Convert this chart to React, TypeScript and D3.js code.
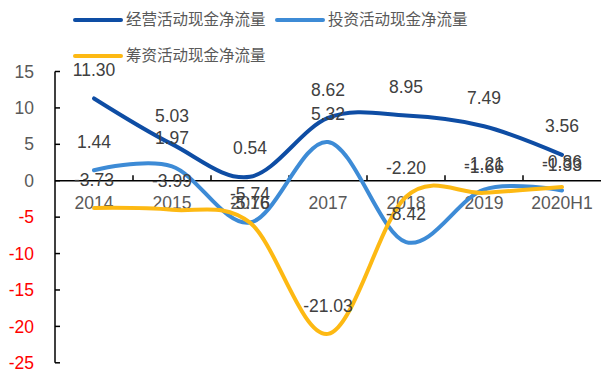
import React from "react";
import * as d3 from "d3";

const categories = ["2014", "2015", "2016", "2017", "2018", "2019", "2020H1"];
const operating = [11.3, 5.03, 0.54, 8.62, 8.95, 7.49, 3.56];
const investing = [1.44, 1.97, -5.74, 5.32, -8.42, -1.21, -1.33];
const financing = [-3.73, -3.99, -5.76, -21.03, -2.2, -1.66, -0.86];
const yTicks = [15, 10, 5, 0, -5, -10, -15, -20, -25];
const seriesNames = ["经营活动现金净流量", "投资活动现金净流量", "筹资活动现金净流量"];

const W = 601;
const H = 376;
const colors = ["#0E4DA4", "#3D8BD6", "#FDB913"];

export default function App() {
  const x0 = 55;
  const x1 = 601;
  const x = d3.scaleBand<string>().domain(categories).range([x0, x1]);
  const y = d3.scaleLinear().domain([-25, 15]).range([362.8, 71.5]);
  const cx = (i: number) => (x(categories[i]) as number) + x.bandwidth() / 2;
  const line = d3
    .line<number>()
    .x((_, i) => cx(i))
    .y((d) => y(d))
    .curve(d3.curveCatmullRom.alpha(0));
  const series = [operating, investing, financing];
  const numFont = "'Liberation Sans', Arial, sans-serif";
  const cjkFont = "'Noto Sans CJK SC', sans-serif";
  const boundaries = categories.slice(1).map((c) => x(c) as number);
  const labelY = (si: number, j: number, v: number) => {
    let yy = y(v) - 28.5;
    if (si === 2 && j === 2) yy = 203; // overlapping label in reference
    if (v < 0 && v > -2) yy += 3;
    return yy;
  };

  return (
    <svg
      width={W}
      height={H}
      style={{ position: "fixed", left: 0, top: 0, background: "#fff" }}
    >
      {/* legend */}
      {[0, 1, 2].map((i) => {
        const lx = i === 1 ? 277 : 75;
        const ly = i === 2 ? 56 : 20;
        return (
          <g key={i}>
            <line x1={lx} x2={lx + 46} y1={ly} y2={ly} stroke={colors[i]} strokeWidth={4} strokeLinecap="round" />
            <text x={lx + 51} y={ly} dy="0.35em" fontSize={15.5} fill="#595959" fontFamily={cjkFont}>
              {seriesNames[i]}
            </text>
          </g>
        );
      })}
      {/* y axis */}
      <line x1={x0} x2={x0} y1={y(15)} y2={y(-25)} stroke="#000" strokeWidth={1.5} />
      {yTicks.map((t) => (
        <g key={t}>
          <line x1={x0} x2={x0 + 5} y1={y(t)} y2={y(t)} stroke="#000" strokeWidth={1.5} />
          <text
            x={34}
            y={y(t)}
            dy="0.35em"
            textAnchor="end"
            fontSize={17.5}
            fontFamily={numFont}
            fill={t < 0 ? "#FF0000" : "#595959"}
          >
            {t}
          </text>
        </g>
      ))}
      {/* zero axis */}
      <line x1={x0} x2={x1} y1={y(0)} y2={y(0)} stroke="#000" strokeWidth={1.5} />
      {boundaries.map((b, i) => (
        <line key={i} x1={b} x2={b} y1={y(0)} y2={y(0) - 5.5} stroke="#000" strokeWidth={1.5} />
      ))}
      {categories.map((c, i) => (
        <text
          key={c}
          x={cx(i)}
          y={203}
          dy="0.35em"
          textAnchor="middle"
          fontSize={17.5}
          fontFamily={numFont}
          fill="#595959"
        >
          {c}
        </text>
      ))}
      {/* lines */}
      {series.map((s, i) => (
        <path key={i} d={line(s) || ""} fill="none" stroke={colors[i]} strokeWidth={4} strokeLinecap="round" />
      ))}
      {/* labels */}
      {series.map((s, i) =>
        s.map((v, j) => (
          <text
            key={`${i}-${j}`}
            x={cx(j)}
            y={labelY(i, j, v)}
            dy="0.35em"
            textAnchor="middle"
            fontSize={17.5}
            fontFamily={numFont}
            fill="#404040"
          >
            {v.toFixed(2)}
          </text>
        ))
      )}
    </svg>
  );
}
